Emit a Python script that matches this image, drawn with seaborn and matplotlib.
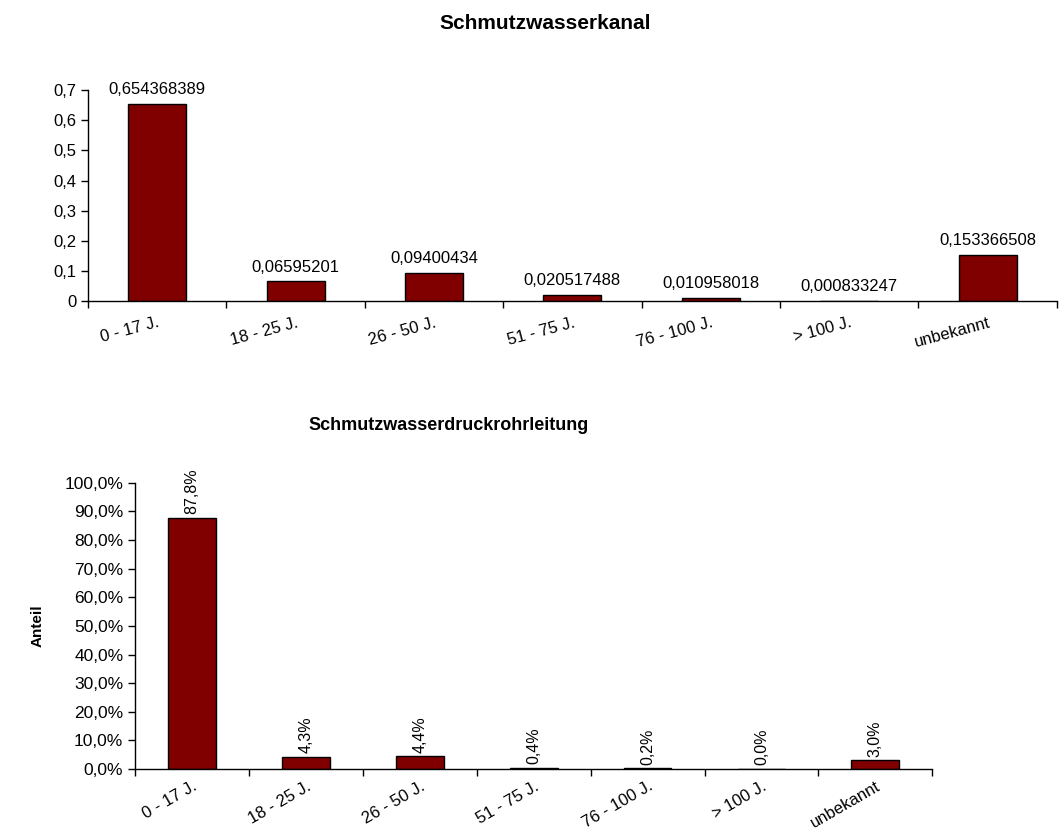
"""
Altersverteilung Schmutzwasserkanal / Schmutzwasserdruckrohrleitung
"""

import numpy as np
import pandas as pd
import matplotlib
matplotlib.use("Agg")
import matplotlib.pyplot as plt
import seaborn as sns
from matplotlib.ticker import FuncFormatter

sns.set_style("ticks")
plt.rcParams["font.family"] = ["Liberation Sans", "DejaVu Sans"]
plt.rcParams["text.color"] = "black"
plt.rcParams["xtick.color"] = "black"
plt.rcParams["ytick.color"] = "black"
plt.rcParams["axes.labelcolor"] = "black"

# Daten
kategorien = ["0 - 17 J.", "18 - 25 J.", "26 - 50 J.", "51 - 75 J.",
              "76 - 100 J.", "> 100 J.", "unbekannt"]
kanal_anteil = [0.654368389, 0.06595201, 0.09400434, 0.020517488,
                0.010958018, 0.000833247, 0.153366508]
kanal_labels = ["0,654368389", "0,06595201", "0,09400434", "0,020517488",
                "0,010958018", "0,000833247", "0,153366508"]
druck_anteil = [0.878, 0.043, 0.044, 0.004, 0.002, 0.0003, 0.030]

farbe = "#800000"

df_kanal = pd.DataFrame({"Kategorie": kategorien, "Anteil": kanal_anteil})
df_druck = pd.DataFrame({"Kategorie": kategorien, "Anteil": druck_anteil})

fig = plt.figure(figsize=(10.6, 8.32), dpi=100)


def achsen_stil(ax, rot, pad, groesse):
    ax.set_xlim(-0.5, len(kategorien) - 0.5)
    ax.set_xticks(range(len(kategorien)))
    ax.set_xticklabels(kategorien, rotation=rot, ha="right",
                       rotation_mode="anchor", fontsize=groesse)
    ax.tick_params(axis="x", which="major", length=0, pad=pad)
    ax.set_xticks(np.arange(-0.5, len(kategorien)), minor=True)
    ax.tick_params(axis="x", which="minor", length=5, width=1, color="black")
    ax.tick_params(axis="y", length=5, width=1, color="black")
    for s in ["left", "bottom"]:
        ax.spines[s].set_color("black")
        ax.spines[s].set_linewidth(1)
    sns.despine(ax=ax)
    ax.set_xlabel("")


# Oberes Diagramm: Schmutzwasserkanal
ax1 = fig.add_axes([0.083, 0.638, 0.914, 0.2536])
sns.barplot(data=df_kanal, x="Kategorie", y="Anteil", color=farbe,
            saturation=1, width=0.42, edgecolor="black", linewidth=1, ax=ax1)
ax1.set_ylim(0, 0.7)
ax1.set_yticks(np.arange(0, 0.71, 0.1))
ax1.yaxis.set_major_formatter(FuncFormatter(
    lambda v, p: "0" if abs(v) < 1e-9 else f"{v:.1f}".replace(".", ",")))
ax1.tick_params(axis="y", labelsize=12)
ax1.set_ylabel("")
achsen_stil(ax1, 15, 10, 12)
for i, (v, t) in enumerate(zip(kanal_anteil, kanal_labels)):
    ax1.text(i, v + 0.022, t, ha="center", va="bottom", fontsize=12)
fig.text(0.514, 0.972, "Schmutzwasserkanal", ha="center", va="center",
         fontsize=15, fontweight="bold")

# Unteres Diagramm: Schmutzwasserdruckrohrleitung
ax2 = fig.add_axes([0.1275, 0.0757, 0.752, 0.344])
sns.barplot(data=df_druck, x="Kategorie", y="Anteil", color=farbe,
            saturation=1, width=0.42, edgecolor="black", linewidth=1, ax=ax2)
ax2.set_ylim(0, 1.0)
ax2.set_yticks(np.arange(0, 1.01, 0.1))
ax2.yaxis.set_major_formatter(FuncFormatter(
    lambda v, p: f"{v * 100:.1f}%".replace(".", ",")))
ax2.tick_params(axis="y", labelsize=12.5)
ax2.set_ylabel("Anteil", fontsize=11, fontweight="bold",
               family=["Liberation Sans Narrow", "Liberation Sans"], labelpad=14)
achsen_stil(ax2, 30, 7, 12)
for i, v in enumerate(druck_anteil):
    ax2.text(i, v + 0.012, f"{v * 100:.1f}%".replace(".", ","), rotation=90,
             ha="center", va="bottom", fontsize=11.5)
fig.text(0.423, 0.489, "Schmutzwasserdruckrohrleitung", ha="center",
         va="center", fontsize=13, fontweight="bold")

fig.savefig("out.png", dpi=100)
